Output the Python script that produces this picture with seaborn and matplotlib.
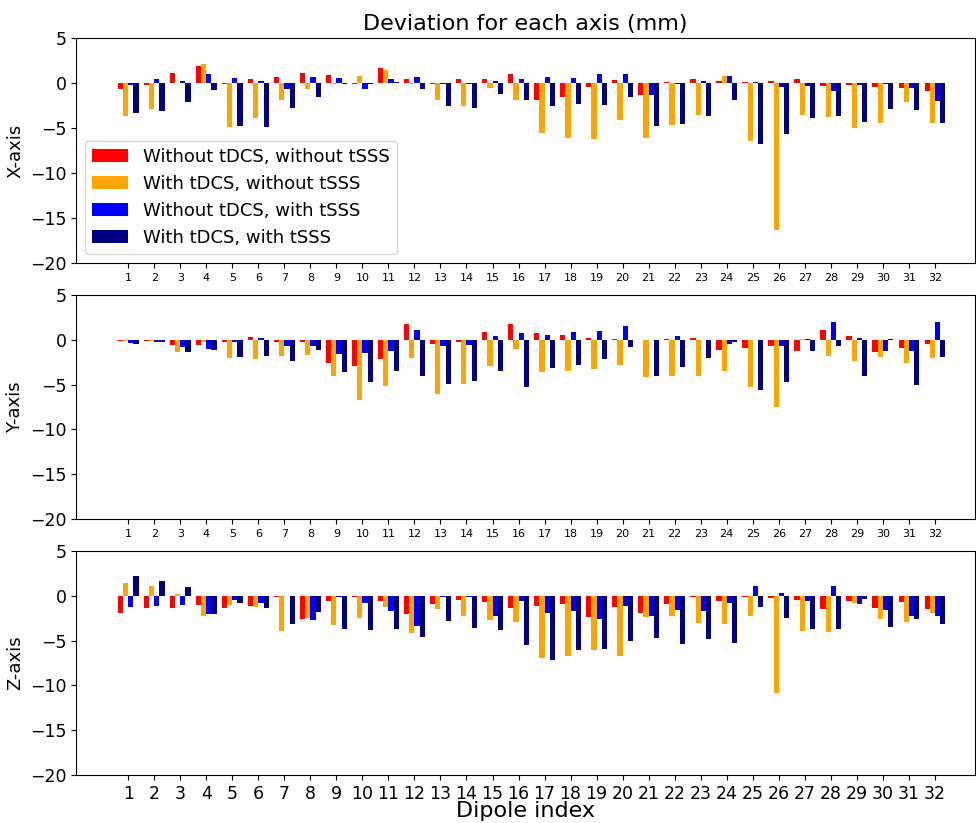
import pandas as pd
import matplotlib.pyplot as plt
import seaborn as sns

dipoles = list(range(1, 33))
conditions = ["Without tDCS, without tSSS", "With tDCS, without tSSS",
              "Without tDCS, with tSSS", "With tDCS, with tSSS"]
colors = ["red", "orange", "blue", "navy"]

# X-axis deviations (mm)
x_red = [-0.6, -0.15, 1.1, 1.9, -0.05, 0.5, 0.7, 1.1, 0.9, -0.05, 1.7, 0.45, -0.05, 0.45, 0.45, 1.0,
         -1.9, -1.5, -0.45, 0.4, -1.3, 0.1, 0.5, 0.3, 0.2, 0.3, 0.5, -0.3, -0.15, -0.45, -0.5, -0.8]
x_orange = [-3.6, -2.9, 0.05, 2.1, -4.8, -3.85, -1.9, -0.6, -0.05, 0.8, 1.5, -0.1, -1.85, -2.5, -0.5, -1.9,
            -5.5, -6.1, -6.15, -4.1, -6.1, -4.65, -3.55, 0.8, -6.35, -16.3, -3.5, -3.75, -4.95, -4.4, -2.05, -4.45]
x_blue = [-0.2, 0.5, 0.3, 1.0, 0.6, 0.3, -0.65, 0.7, 0.6, -0.6, 0.5, 0.7, -0.1, -0.05, 0.3, 0.5,
          0.7, 0.65, 1.05, 1.0, -1.3, -0.05, 0.3, 0.8, 0.2, -0.45, -0.3, -0.8, -0.2, -0.05, -0.5, -1.95]
x_navy = [-3.3, -3.1, -2.1, -0.75, -4.7, -4.8, -2.7, -1.5, -0.1, -0.05, 0.1, -0.6, -2.5, -2.75, -1.15, -1.8,
          -2.55, -2.25, -2.35, -1.5, -4.75, -4.5, -3.6, -1.85, -6.75, -5.65, -3.8, -3.6, -4.3, -2.8, -2.95, -4.4]

# Y-axis deviations (mm)
y_red = [-0.1, -0.1, -0.6, -0.6, -0.2, 0.3, -0.2, -0.2, -2.6, -2.9, -2.2, 1.75, -0.5, -0.2, 0.9, 1.75,
         0.75, 0.55, 0.25, 0.05, 0.0, 0.1, 0.2, -1.1, -0.9, -0.75, -1.2, 1.05, 0.45, -1.4, -0.9, -0.5]
y_orange = [-0.15, -0.15, -1.35, -0.3, -2.05, -2.2, -1.85, -1.7, -4.0, -6.7, -5.2, -2.0, -6.05, -4.9, -2.9, -1.05,
            -3.6, -3.5, -3.25, -2.8, -4.1, -4.0, -4.0, -3.5, -5.3, -7.5, 0.05, -1.8, -2.35, -1.95, -2.6, -2.05]
y_blue = [-0.35, -0.2, -0.8, -1.05, -0.3, 0.2, -0.65, -0.65, -1.6, -1.5, -1.2, 1.1, -0.65, -0.55, 0.45, 0.75,
          0.5, 0.9, 1.0, 1.5, -0.05, 0.4, -0.05, -0.5, -0.05, -0.7, 0.05, 1.95, 0.2, -1.3, -1.3, 2.0]
y_navy = [-0.45, -0.3, -1.4, -1.15, -1.9, -1.8, -2.35, -1.15, -3.6, -4.7, -3.5, -4.05, -4.9, -4.55, -3.45, -5.3,
          -3.1, -2.8, -2.2, -0.85, -4.0, -3.0, -2.0, -0.2, -5.6, -4.75, -1.25, -0.75, -4.05, 0.05, -5.1, -1.95]

# Z-axis deviations (mm)
z_red = [-1.9, -1.35, -1.35, -1.05, -1.35, -1.1, -0.1, -2.6, -0.55, -0.1, -0.55, -2.0, -0.9, -0.5, -0.7, -1.35,
         -1.15, -0.9, -2.35, -1.25, -1.9, -0.95, -0.1, -0.55, -0.1, -0.25, -0.5, -1.5, -0.55, -1.35, -0.65, -1.45]
z_orange = [1.45, 1.1, 0.2, -2.3, -1.05, -1.2, -3.9, -2.5, -3.3, -2.5, -1.3, -4.2, -1.5, -2.3, -2.65, -2.95,
            -6.95, -6.7, -6.1, -6.7, -2.4, -2.3, -3.05, -3.1, -2.3, -10.8, -3.95, -4.05, -0.8, -2.6, -2.95, -1.95]
z_blue = [-1.2, -1.1, -1.0, -2.05, -0.45, -0.85, -0.05, -2.65, -0.1, -0.75, -1.65, -3.35, -0.1, -0.1, -2.25, -0.55,
          -1.95, -1.65, -2.6, -1.15, -2.25, -1.55, -1.65, -0.8, 1.1, 0.35, -0.55, 1.05, -0.95, -1.6, -2.2, -2.2]
z_navy = [2.2, 1.6, 0.95, -2.0, -0.85, -1.35, -3.15, -1.8, -3.65, -3.8, -3.75, -4.6, -2.8, -3.6, -3.85, -5.5,
          -7.2, -6.1, -5.95, -5.0, -4.7, -5.35, -4.8, -5.3, -1.25, -2.5, -3.7, -3.7, -0.4, -3.5, -2.55, -3.2]

panels = [
    ("X-axis", [x_red, x_orange, x_blue, x_navy]),
    ("Y-axis", [y_red, y_orange, y_blue, y_navy]),
    ("Z-axis", [z_red, z_orange, z_blue, z_navy]),
]


def to_long(series):
    rows = []
    for cond, vals in zip(conditions, series):
        for d, v in zip(dipoles, vals):
            rows.append({"dipole": str(d), "condition": cond, "value": v})
    return pd.DataFrame(rows)


fig = plt.figure(figsize=(9.76, 8.23), dpi=100)
boxes = [(0.078, 0.680, 0.921, 0.2734),
         (0.078, 0.3694, 0.921, 0.2722),
         (0.078, 0.0583, 0.921, 0.2722)]

for i, ((label, series), box) in enumerate(zip(panels, boxes)):
    ax = fig.add_axes(box)
    df = to_long(series)
    sns.barplot(data=df, x="dipole", y="value", hue="condition", hue_order=conditions,
                order=[str(d) for d in dipoles], palette=colors, errorbar=None,
                width=0.8, saturation=1, ax=ax)
    ax.set_ylim(-20, 5)
    ax.set_yticks([5, 0, -5, -10, -15, -20])
    ax.set_xlim(-2.0, 32.54)
    ax.set_ylabel(label, fontsize=13)
    ax.tick_params(axis="y", labelsize=12.5)
    if i < 2:
        ax.tick_params(axis="x", labelsize=8)
        ax.set_xlabel("")
    else:
        ax.tick_params(axis="x", labelsize=12.5)
        ax.set_xlabel("Dipole index", fontsize=16, labelpad=-1)
    if i == 0:
        ax.set_title("Deviation for each axis (mm)", fontsize=16)
        ax.legend(loc="lower left", fontsize=13, title=None)
    else:
        ax.get_legend().remove()

plt.savefig("out.png", dpi=100)
plt.close()
